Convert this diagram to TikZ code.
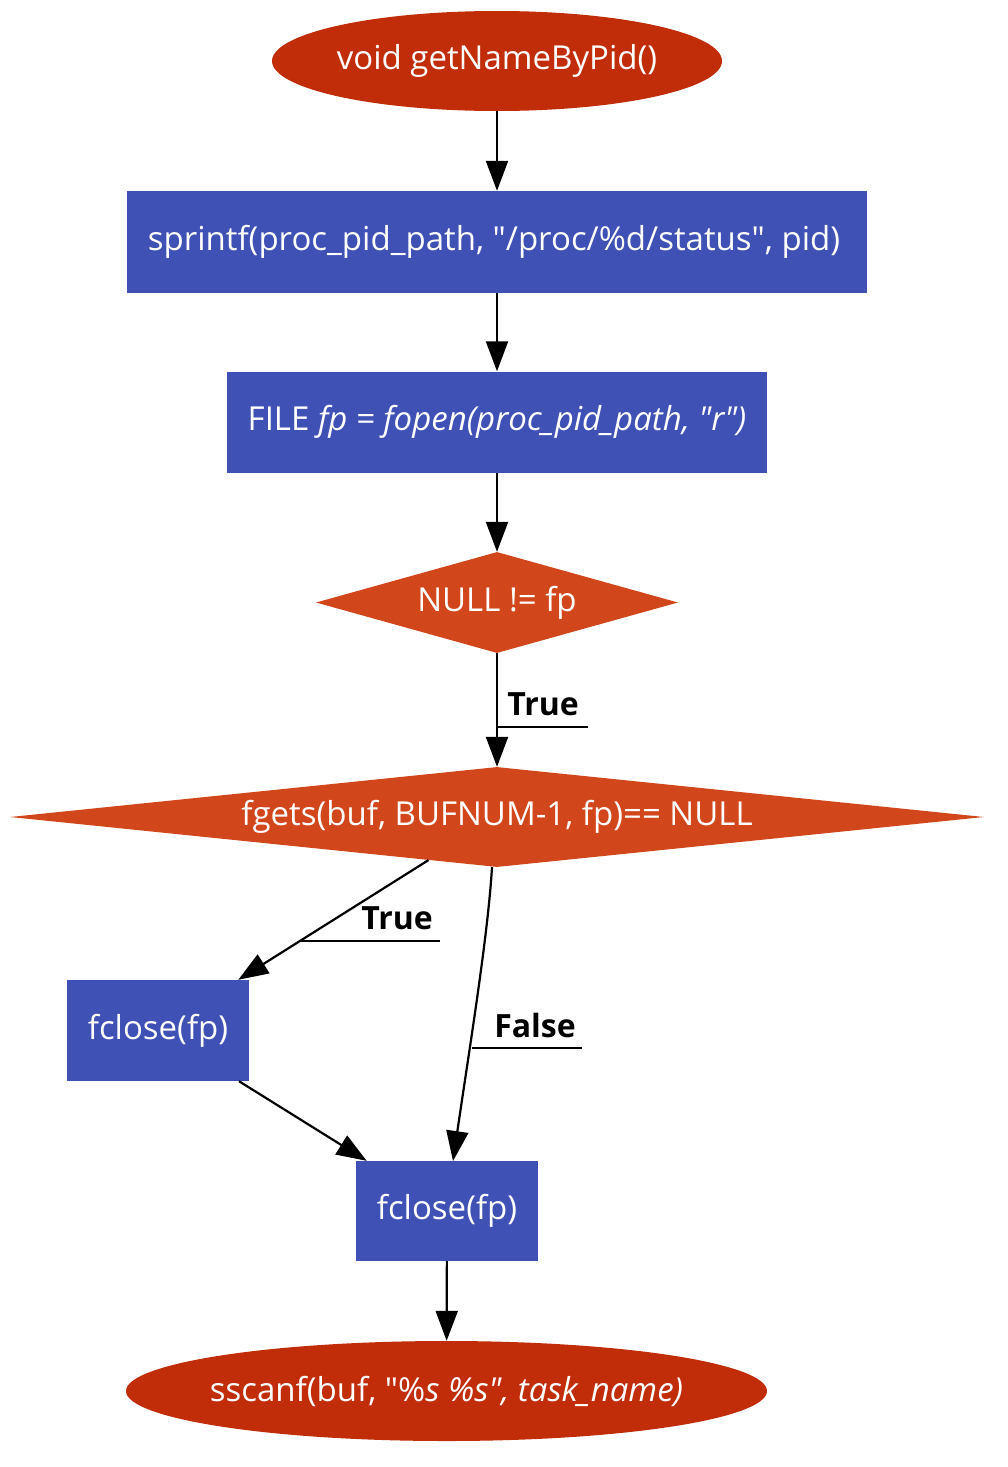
\documentclass[tikz,border=0pt]{standalone}
\usepackage{fontspec}
\setmainfont{Open Sans}[Ligatures=TeXOff]
\usetikzlibrary{shapes.geometric,arrows.meta}
\definecolor{termc}{RGB}{192,45,8}
\definecolor{decc}{RGB}{209,70,27}
\definecolor{procc}{RGB}{63,81,181}
\newcommand{\qq}{\char34 }
\tikzset{
  base/.style={text=white,font=\fontsize{33}{40}\selectfont,inner sep=0pt},
  term/.style={base,ellipse,fill=termc},
  proc/.style={base,rectangle,fill=procc},
  dec/.style={base,diamond,fill=decc},
  conn/.style={line width=2.2pt,-{Triangle[length=30pt,width=22pt]}},
  lab/.style={font=\fontsize{32}{38}\selectfont\bfseries,inner sep=0pt},
  uline/.style={line width=2.2pt}
}
\begin{document}
\begin{tikzpicture}[x=1pt,y=-1pt]
\useasboundingbox (0,0) rectangle (1008,1467);
\node[term,minimum width=450pt,minimum height=100pt] (e1) at (497,61) {\makebox[0pt]{void getNameByPid()}};
\node[proc,minimum width=740pt,minimum height=102pt] (r1) at (497,242) {\makebox[0pt]{\hspace*{-6pt}sprintf(proc\_pid\_path, \qq/proc/\%d/status\qq, pid)}};
\node[proc,minimum width=540pt,minimum height=101pt] (r2) at (497,422) {FILE \textit{fp = fopen(proc\_pid\_path, \qq r\qq)}};
\node[dec,minimum width=362pt,minimum height=101pt,aspect=3.58] (d1) at (497,602.5) {NULL != fp};
\node[dec,minimum width=974pt,minimum height=100pt,aspect=9.74] (d2) at (497,817) {fgets(buf, BUFNUM-1, fp)== NULL};
\node[proc,minimum width=182pt,minimum height=101pt] (r3) at (158,1030.5) {fclose(fp)};
\node[proc,minimum width=182pt,minimum height=100pt] (r4) at (447,1211) {fclose(fp)};
\node[term,minimum width=641pt,minimum height=100pt] (e2) at (446.5,1391) {\makebox[0pt]{sscanf(buf, \qq\%\textit{s \%s\qq, task\_name)}}};

\draw[conn] (e1) -- (r1);
\draw[conn] (r1) -- (r2);
\draw[conn] (r2) -- (d1);
\draw[conn] (d1) -- (d2);
\draw[conn] (d2) -- (r3);
\coordinate (fs) at (492,867);
\coordinate (fe) at (453,1161);
\draw[conn] (fs) .. controls (488,935) and (470,1045) .. (fe);
\draw[conn] (r3) -- (r4);
\draw[conn] (r4) -- (e2);

\coordinate (t1a) at (497,727);
\coordinate (t1b) at (588,727);
\draw[uline] (t1a) -- (t1b);
\node[lab] (l1) at (543,704) {True};

\coordinate (t2a) at (299,941);
\coordinate (t2b) at (440,941);
\draw[uline] (t2a) -- (t2b);
\node[lab] (l2) at (397,918) {True};

\coordinate (t3a) at (472,1048);
\coordinate (t3b) at (582,1048);
\draw[uline] (t3a) -- (t3b);
\node[lab] (l3) at (535,1025) {False};
\end{tikzpicture}
\end{document}
